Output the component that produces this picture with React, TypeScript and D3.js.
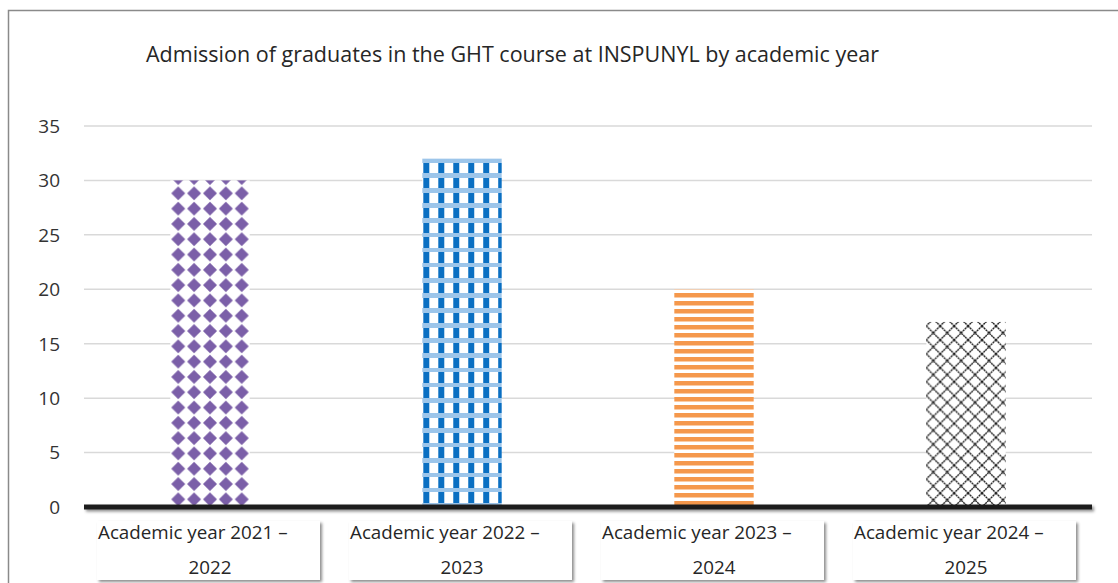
import React, { useEffect, useRef } from "react";
import * as d3 from "d3";

const categories = [
  ["Academic year 2021 –", "2022"],
  ["Academic year 2022 –", "2023"],
  ["Academic year 2023 –", "2024"],
  ["Academic year 2024 –", "2025"],
];
const values = [30, 32, 20, 17];
const yTicks = [0, 5, 10, 15, 20, 25, 30, 35];
const title = "Admission of graduates in the GHT course at INSPUNYL by academic year";

const W = 1118;
const H = 583;
const FONT = "'Open Sans', 'Noto Sans', sans-serif";

const App = () => {
  const svgRef = useRef<SVGSVGElement>(null);

  useEffect(() => {
    const svg = d3.select(svgRef.current);
    svg.selectAll("*").remove();
    svg.attr("width", W).attr("height", H);

    const left = 84, right = 1092, top = 126, bottom = 507;
    const x = d3.scaleBand<number>().domain(d3.range(values.length)).range([left, right]).padding(0);
    const y = d3.scaleLinear().domain([0, 35]).range([bottom, top]);
    const barW = x.bandwidth() * 0.315;

    const defs = svg.append("defs");
    const shadow = defs.append("filter").attr("id", "shadow")
      .attr("x", "-10%").attr("y", "-50%").attr("width", "120%").attr("height", "250%");
    shadow.append("feDropShadow").attr("dx", 2).attr("dy", 2)
      .attr("stdDeviation", 1.5).attr("flood-color", "#000").attr("flood-opacity", 0.45);

    // outer frame
    svg.append("rect")
      .attr("x", 8.5).attr("y", 10.5).attr("width", W + 20).attr("height", H + 20)
      .attr("fill", "white").attr("stroke", "#8a8a8a").attr("stroke-width", 1.5);

    // title
    svg.append("text")
      .attr("x", 146).attr("y", 62)
      .attr("font-family", FONT).attr("font-size", 21.5).attr("fill", "#262626")
      .text(title);

    // gridlines
    svg.append("g").selectAll("line").data(yTicks.filter((d) => d > 0)).join("line")
      .attr("x1", left).attr("x2", right)
      .attr("y1", (d) => y(d)).attr("y2", (d) => y(d))
      .attr("stroke", "#d9d9d9").attr("stroke-width", 1.5);

    // y labels
    svg.append("g").selectAll("text").data(yTicks).join("text")
      .attr("x", 60).attr("y", (d) => y(d)).attr("dy", "0.36em")
      .attr("text-anchor", "end")
      .attr("font-family", FONT).attr("font-size", 19).attr("fill", "#333")
      .text((d) => d);

    // patterns, one per bar, aligned with each bar
    const barX = (i: number) => (x(i) as number) + (x.bandwidth() - barW) / 2;

    // purple diamonds
    const pw = barW / 5, ph = 15.3;
    const p0 = defs.append("pattern").attr("id", "pat0").attr("patternUnits", "userSpaceOnUse")
      .attr("x", barX(0)).attr("y", bottom).attr("width", pw).attr("height", ph);
    p0.append("rect").attr("width", pw).attr("height", ph).attr("fill", "white");
    p0.append("path")
      .attr("d", `M${pw / 2},${ph / 2 - 7} L${pw / 2 + 7},${ph / 2} L${pw / 2},${ph / 2 + 7} L${pw / 2 - 7},${ph / 2} Z`)
      .attr("fill", "#7b5fa8");

    // blue plaid
    const bw = barW / 5.3, bh = 15;
    const p1 = defs.append("pattern").attr("id", "pat1").attr("patternUnits", "userSpaceOnUse")
      .attr("x", barX(1)).attr("y", bottom).attr("width", bw).attr("height", bh);
    p1.append("rect").attr("width", bw).attr("height", bh).attr("fill", "white");
    p1.append("rect").attr("x", 1).attr("y", 0).attr("width", 6).attr("height", 11).attr("fill", "#0a6fc2");
    for (let cx = 0; cx < bw; cx += 2) {
      for (let cy = 11; cy < bh; cy += 2) {
        const on = ((cx + cy) / 2) % 2 === 0;
        p1.append("rect").attr("x", cx).attr("y", cy).attr("width", 2).attr("height", 2)
          .attr("fill", on ? "#0a6fc2" : "#9cc5ea");
      }
    }

    // orange stripes
    const p2 = defs.append("pattern").attr("id", "pat2").attr("patternUnits", "userSpaceOnUse")
      .attr("x", barX(2)).attr("y", bottom).attr("width", 20).attr("height", 8);
    p2.append("rect").attr("width", 20).attr("height", 8).attr("fill", "white");
    p2.append("rect").attr("y", 2).attr("width", 20).attr("height", 4.5).attr("fill", "#f5984c");

    // black crosshatch
    const cw = barW / 5.7;
    const p3 = defs.append("pattern").attr("id", "pat3").attr("patternUnits", "userSpaceOnUse")
      .attr("x", barX(3)).attr("y", bottom).attr("width", cw).attr("height", cw);
    p3.append("rect").attr("width", cw).attr("height", cw).attr("fill", "white");
    p3.append("path")
      .attr("d", `M0,0 L${cw},${cw} M${cw},0 L0,${cw} M-1,${cw - 1} L1,${cw + 1} M${cw - 1},-1 L${cw + 1},1`)
      .attr("stroke", "#1e1e1e").attr("stroke-width", 1.4).attr("stroke-dasharray", "2,0.6");

    // bars
    svg.append("g").selectAll("rect").data(values).join("rect")
      .attr("x", (_d, i) => barX(i))
      .attr("y", (d) => y(d))
      .attr("width", barW)
      .attr("height", (d) => y(0) - y(d))
      .attr("fill", (_d, i) => `url(#pat${i})`);

    // baseline axis (rect so the shadow filter has a real box)
    svg.append("rect")
      .attr("x", left).attr("y", y(0) - 2.5)
      .attr("width", right - left).attr("height", 5)
      .attr("fill", "#1f1f1f")
      .attr("filter", "url(#shadow)");

    // category label boxes
    const boxW = 223;
    const lab = svg.append("g").selectAll("g").data(categories).join("g")
      .attr("transform", (_d, i) => `translate(${(x(i) as number) + 13},521)`);
    lab.append("rect")
      .attr("width", boxW).attr("height", 59)
      .attr("fill", "white").attr("filter", "url(#shadow)");
    lab.append("text")
      .attr("x", 1).attr("y", 18)
      .attr("font-family", FONT).attr("font-size", 18.8).attr("fill", "#262626")
      .text((d) => d[0]);
    lab.append("text")
      .attr("x", x.bandwidth() / 2 - 13).attr("y", 53)
      .attr("text-anchor", "middle")
      .attr("font-family", FONT).attr("font-size", 18.8).attr("fill", "#262626")
      .text((d) => d[1]);
  }, []);

  return (
    <svg ref={svgRef} style={{ position: "absolute", left: 0, top: 0, display: "block" }}></svg>
  );
};

export default App;
